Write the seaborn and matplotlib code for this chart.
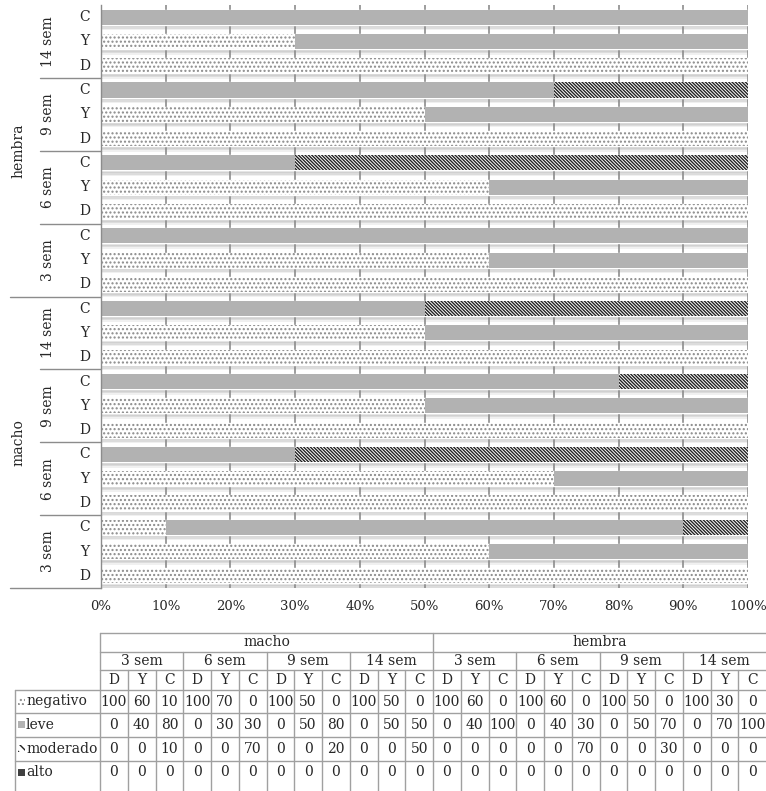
import numpy as np
import pandas as pd
import matplotlib
matplotlib.use("Agg")
import matplotlib.pyplot as plt
from matplotlib.patches import Rectangle
import seaborn as sns

# ---------------- data ----------------
sexes = ["macho", "hembra"]
weeks = ["3 sem", "6 sem", "9 sem", "14 sem"]
segments = ["D", "Y", "C"]
series_names = ["negativo", "leve", "moderado", "alto"]
# table order: macho 3 sem D,Y,C ; 6 sem ; 9 sem ; 14 sem ; hembra ...
negativo = [100, 60, 10, 100, 70, 0, 100, 50, 0, 100, 50, 0,
            100, 60, 0, 100, 60, 0, 100, 50, 0, 100, 30, 0]
leve = [0, 40, 80, 0, 30, 30, 0, 50, 80, 0, 50, 50,
        0, 40, 100, 0, 40, 30, 0, 50, 70, 0, 70, 100]
moderado = [0, 0, 10, 0, 0, 70, 0, 0, 20, 0, 0, 50,
            0, 0, 0, 0, 0, 70, 0, 0, 30, 0, 0, 0]
alto = [0, 0, 0, 0, 0, 0, 0, 0, 0, 0, 0, 0,
        0, 0, 0, 0, 0, 0, 0, 0, 0, 0, 0, 0]
xticks = [0, 10, 20, 30, 40, 50, 60, 70, 80, 90, 100]

# ---------------- styling ----------------
sns.set_style("white")
plt.rcParams["font.family"] = ["DejaVu Serif"]
plt.rcParams["hatch.linewidth"] = 1.0

W, H = 766, 791
fig = plt.figure(figsize=(W / 100, H / 100), dpi=100)

rows = []
for s in sexes:
    for w in weeks:
        for g in segments:
            rows.append((s, w, g))
df = pd.DataFrame(rows, columns=["sexo", "semana", "seg"])
df["key"] = df["sexo"] + "|" + df["semana"] + "|" + df["seg"]
df["negativo"] = negativo
df["leve"] = leve
df["moderado"] = moderado
df["alto"] = alto
df["c1"] = df["negativo"]
df["c2"] = df["c1"] + df["leve"]
df["c3"] = df["c2"] + df["moderado"]
df["c4"] = df["c3"] + df["alto"]

order = list(df["key"][::-1])
n = len(order)

left_px, right_px, top_px, bot_px = 101, 748, 5, 588
ax = fig.add_axes([left_px / W, 1 - bot_px / H, (right_px - left_px) / W, (bot_px - top_px) / H])

BW = 0.62
HATCH_MOD = "\\" * 10
HATCH_NEG = "...."
# shadows (soft gradient under each bar)
ypos = np.arange(n)
tot = df.set_index("key").loc[order, "c4"].values
for off, a in [(0.36, 0.30), (0.42, 0.22), (0.48, 0.14)]:
    ax.barh(ypos + off, tot, height=0.12, color="#9a9a9a", alpha=a, linewidth=0, zorder=0.5)

styles = [
    ("c4", dict(color="#404040")),
    ("c3", dict(color="white", edgecolor="#222222", hatch=HATCH_MOD, linewidth=0)),
    ("c2", dict(color="#b2b2b2", linewidth=0)),
    ("c1", dict(color="white", edgecolor="#8a8a8a", hatch=HATCH_NEG, linewidth=0)),
]
for col, kw in styles:
    sns.barplot(data=df, y="key", x=col, order=order, orient="h", errorbar=None,
                width=BW, saturation=1, ax=ax, zorder=2, **kw)

ax.set_xlim(0, 100)
ax.set_ylim(n - 0.5, -0.5)
ax.set_xlabel("")
ax.set_ylabel("")
ax.set_xticks(xticks)
ax.set_xticklabels([f"{v}%" for v in xticks], fontsize=9.5)
ax.tick_params(axis="x", length=0, pad=9)
ax.set_yticks([])
for v in xticks:
    ax.axvline(v, color="#8c8c8c", lw=1.2, zorder=1)
for sp in ["top", "right", "bottom"]:
    ax.spines[sp].set_visible(False)
ax.spines["left"].set_color("#8c8c8c")
ax.spines["left"].set_linewidth(1.0)

# category labels
tr = ax.get_yaxis_transform()
px = 1.0 / (right_px - left_px)
for i, k in enumerate(order):
    s, w, g = k.split("|")
    ax.text(-(101 - 85) * px, i, g, transform=tr, ha="center", va="center", fontsize=10)
# week group labels and separators
for gi in range(n // 3):
    yc = gi * 3 + 1
    w = order[gi * 3].split("|")[1]
    ax.text(-(101 - 48) * px, yc, w, transform=tr, ha="center", va="center",
            rotation=90, fontsize=10)
    yb = gi * 3 + 2.5
    if (gi + 1) % 4 == 0:
        x0 = -(101 - 10) * px
    else:
        x0 = -(101 - 40) * px
    ax.plot([x0, 0], [yb, yb], transform=tr, color="#8c8c8c", lw=1.0, clip_on=False)
for si in range(2):
    s = order[si * 12].split("|")[0]
    ax.text(-(101 - 18) * px, si * 12 + 5.5, s, transform=tr, ha="center", va="center",
            rotation=90, fontsize=10)

# ---------------- data table ----------------
tax = fig.add_axes([0, 0, 1, 1])
tax.set_xlim(0, W)
tax.set_ylim(H, 0)
tax.axis("off")
lc = "#a0a0a0"
x_lab = 15
x0 = 100
cw = (766 - x0) / 24
yl = [633, 652, 670, 690, 713, 737, 761, 796]
xr = 766
# horizontals
for y in yl[:3]:
    tax.plot([x0, xr], [y, y], color=lc, lw=1)
for y in yl[3:]:
    tax.plot([x_lab, xr], [y, y], color=lc, lw=1)
# verticals
tax.plot([x0, x0], [yl[0], H], color=lc, lw=1)
tax.plot([x_lab, x_lab], [yl[3], H], color=lc, lw=1)
tax.plot([x0 + 12 * cw, x0 + 12 * cw], [yl[0], H], color=lc, lw=1)
for c in range(1, 24):
    xx = x0 + c * cw
    if c % 12 == 0:
        continue
    if c % 3 == 0:
        tax.plot([xx, xx], [yl[1], H], color=lc, lw=1)
    else:
        tax.plot([xx, xx], [yl[2], H], color=lc, lw=1)
fs = 10
for si, s in enumerate(sexes):
    tax.text(x0 + (si * 12 + 6) * cw, (yl[0] + yl[1]) / 2, s, ha="center", va="center", fontsize=fs)
    for wi, w in enumerate(weeks):
        tax.text(x0 + (si * 12 + wi * 3 + 1.5) * cw, (yl[1] + yl[2]) / 2, w,
                 ha="center", va="center", fontsize=fs)
        for gi, g in enumerate(segments):
            tax.text(x0 + (si * 12 + wi * 3 + gi + 0.5) * cw, (yl[2] + yl[3]) / 2, g,
                     ha="center", va="center", fontsize=fs)
series_vals = [negativo, leve, moderado, alto]
key_styles = [
    dict(facecolor="white", edgecolor="#8a8a8a", hatch=HATCH_NEG, linewidth=0),
    dict(facecolor="#b2b2b2", linewidth=0),
    dict(facecolor="white", edgecolor="#222222", hatch="\\\\\\\\", linewidth=0),
    dict(facecolor="#404040", linewidth=0),
]
for ri, (name, vals) in enumerate(zip(series_names, series_vals)):
    yc = (yl[3 + ri] + min(yl[4 + ri], 784)) / 2
    tax.add_patch(Rectangle((18, yc - 4), 7, 7, **key_styles[ri]))
    tax.text(26, yc, name, ha="left", va="center", fontsize=fs)
    for c, v in enumerate(vals):
        tax.text(x0 + (c + 0.5) * cw, yc, str(v), ha="center", va="center", fontsize=fs)

fig.savefig("out.png", dpi=100)
